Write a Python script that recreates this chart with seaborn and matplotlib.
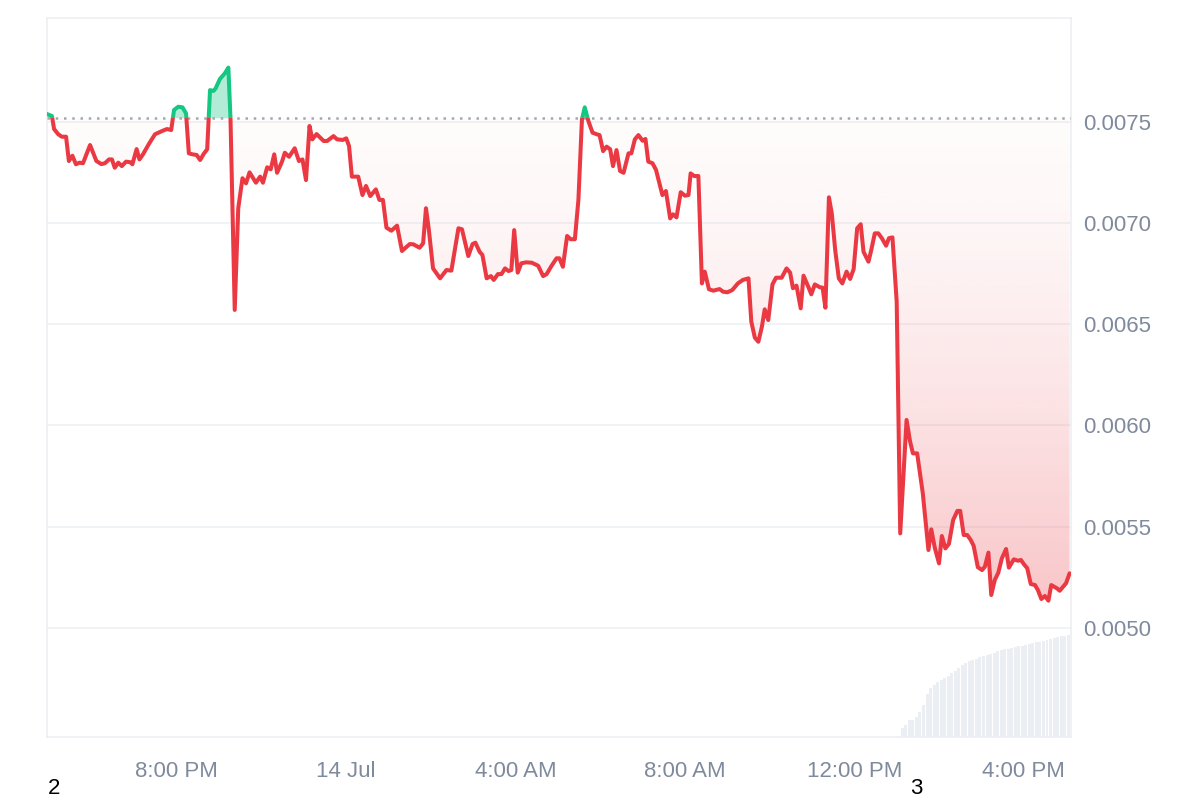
import numpy as np
import pandas as pd
import matplotlib.pyplot as plt
import matplotlib.dates as mdates
from matplotlib.colors import to_rgb
from matplotlib.patches import Rectangle
import seaborn as sns

sns.set_theme(style="white")
plt.rcParams["font.family"] = ["Liberation Sans", "DejaVu Sans"]

RED = "#ea3943"
GREEN = "#16c784"
TXT = "#808a9d"
GRID = "#eff2f5"

# price series: minutes after the window start, price
start = pd.Timestamp("2024-07-13 16:56")
end = start + pd.Timedelta(minutes=1451)
baseline = 0.007516

minutes = [
    0, 7, 10, 16, 21, 27, 31, 36, 41, 46, 51, 61, 70, 77, 82, 88, 92, 96, 101, 106,
    112, 118, 121, 127, 131, 136, 144, 153, 163, 170, 176, 180, 186, 192, 197, 201, 206, 212, 217, 222,
    227, 231, 236, 239, 245, 252, 257, 260, 266, 271, 277, 282, 287, 296, 302, 306, 312, 317, 322, 326,
    333, 337, 343, 351, 357, 362, 367, 372, 376, 382, 392, 397, 406, 411, 419, 424, 428, 432, 441, 447,
    452, 458, 466, 471, 476, 481, 488, 496, 503, 514, 519, 528, 533, 537, 541, 547, 557, 566, 573, 583,
    588, 597, 603, 607, 613, 617, 623, 629, 633, 639, 644, 649, 654, 658, 662, 667, 672, 679, 687, 696,
    703, 708, 715, 722, 726, 731, 737, 742, 748, 753, 758, 762, 767, 773, 779, 783, 788, 793, 798, 802,
    807, 812, 817, 824, 828, 833, 838, 844, 848, 852, 858, 863, 872, 877, 883, 887, 892, 898, 904, 909,
    912, 917, 923, 928, 932, 938, 944, 953, 958, 964, 971, 979, 986, 994, 998, 1003, 1008, 1013, 1017, 1022,
    1028, 1033, 1041, 1048, 1053, 1057, 1062, 1068, 1072, 1079, 1083, 1088, 1095, 1099, 1103, 1108, 1112, 1117, 1122, 1127,
    1133, 1138, 1143, 1148, 1153, 1157, 1164, 1168, 1173, 1178, 1183, 1189, 1193, 1198, 1204, 1209, 1218, 1223, 1227, 1233,
    1241, 1249, 1253, 1258, 1264, 1268, 1273, 1278, 1284, 1290, 1294, 1299, 1304, 1309, 1313, 1319, 1325, 1329, 1334, 1338,
    1343, 1348, 1353, 1359, 1363, 1370, 1376, 1380, 1384, 1389, 1394, 1400, 1404, 1409, 1414, 1419, 1423, 1431, 1435, 1444,
    1449,
]
prices = [
    0.007537, 0.007527, 0.007463, 0.007437, 0.007425, 0.007425, 0.007305, 0.007331, 0.007289, 0.007297,
    0.007294, 0.007384, 0.007305, 0.007290, 0.007294, 0.007313, 0.007313, 0.007272, 0.007297, 0.007280,
    0.007302, 0.007299, 0.007289, 0.007364, 0.007313, 0.007338, 0.007387, 0.007437, 0.007453, 0.007463,
    0.007458, 0.007557, 0.007573, 0.007570, 0.007540, 0.007343, 0.007338, 0.007335, 0.007310, 0.007340,
    0.007363, 0.007655, 0.007651, 0.007664, 0.007710, 0.007738, 0.007766, 0.007516, 0.006570, 0.007072,
    0.007220, 0.007195, 0.007249, 0.007198, 0.007228, 0.007198, 0.007274, 0.007264, 0.007338, 0.007247,
    0.007302, 0.007346, 0.007326, 0.007368, 0.007305, 0.007313, 0.007211, 0.007478, 0.007412, 0.007438,
    0.007404, 0.007404, 0.007428, 0.007412, 0.007409, 0.007417, 0.007379, 0.007228, 0.007228, 0.007137,
    0.007182, 0.007132, 0.007165, 0.007113, 0.007113, 0.006976, 0.006961, 0.006986, 0.006861, 0.006895,
    0.006894, 0.006877, 0.006899, 0.007072, 0.006968, 0.006775, 0.006726, 0.006767, 0.006764, 0.006973,
    0.006968, 0.006836, 0.006895, 0.006902, 0.006857, 0.006841, 0.006726, 0.006737, 0.006718, 0.006747,
    0.006747, 0.006775, 0.006762, 0.006767, 0.006964, 0.006754, 0.006800, 0.006805, 0.006803, 0.006788,
    0.006737, 0.006747, 0.006788, 0.006825, 0.006825, 0.006783, 0.006935, 0.006919, 0.006919, 0.007113,
    0.007511, 0.007570, 0.007504, 0.007445, 0.007437, 0.007433, 0.007354, 0.007376, 0.007363, 0.007280,
    0.007359, 0.007256, 0.007247, 0.007343, 0.007343, 0.007412, 0.007433, 0.007405, 0.007414, 0.007302,
    0.007294, 0.007261, 0.007137, 0.007157, 0.007022, 0.007042, 0.007027, 0.007151, 0.007134, 0.007137,
    0.007244, 0.007231, 0.007231, 0.006701, 0.006759, 0.006672, 0.006665, 0.006673, 0.006660, 0.006657,
    0.006668, 0.006701, 0.006718, 0.006726, 0.006512, 0.006433, 0.006413, 0.006487, 0.006573, 0.006520,
    0.006696, 0.006729, 0.006729, 0.006775, 0.006754, 0.006677, 0.006690, 0.006578, 0.006739, 0.006682,
    0.006647, 0.006696, 0.006682, 0.006680, 0.006581, 0.007126, 0.007047, 0.006861, 0.006726, 0.006701,
    0.006759, 0.006723, 0.006771, 0.006973, 0.006993, 0.006857, 0.006808, 0.006866, 0.006948, 0.006948,
    0.006924, 0.006887, 0.006924, 0.006928, 0.006611, 0.005467, 0.006027, 0.005920, 0.005862, 0.005862,
    0.005665, 0.005385, 0.005487, 0.005396, 0.005319, 0.005454, 0.005393, 0.005415, 0.005533, 0.005578,
    0.005578, 0.005459, 0.005459, 0.005434, 0.005406, 0.005300, 0.005286, 0.005303, 0.005372, 0.005163,
    0.005237, 0.005273, 0.005344, 0.005390, 0.005298, 0.005339, 0.005332, 0.005336, 0.005316, 0.005295,
    0.005217, 0.005212, 0.005188, 0.005143, 0.005158, 0.005135, 0.005212, 0.005196, 0.005184, 0.005221,
    0.005270,
]

# volume bars (5 minute buckets, relative units)
vol_start = pd.Timestamp("2024-07-14 13:08")
volumes = [
    9, 12, 17, 17, 20, 25, 32, 43, 49, 52, 55, 57, 59, 61, 64, 66, 69, 72, 74, 76,
    77, 78, 80, 81, 82, 83, 84, 86, 87, 88, 88, 89, 90, 91, 91, 92, 93, 94, 95, 95,
    96, 97, 98, 99, 100, 101, 101, 102,
]

yticks = [0.0050, 0.0055, 0.0060, 0.0065, 0.0070, 0.0075]
tick_times = ["2024-07-13 20:00", "2024-07-14 00:00", "2024-07-14 04:00",
              "2024-07-14 08:00", "2024-07-14 12:00", "2024-07-14 16:00"]
tick_labels = ["8:00 PM", "14 Jul", "4:00 AM", "8:00 AM", "12:00 PM", "4:00 PM"]

df = pd.DataFrame({"time": start + pd.to_timedelta(minutes, unit="min"), "price": prices})
df["x"] = mdates.date2num(df["time"])
vol = pd.DataFrame({"time": pd.date_range(vol_start, periods=len(volumes), freq="5min"),
                    "volume": volumes})
vol["x"] = mdates.date2num(vol["time"])

x0, x1 = mdates.date2num(start), mdates.date2num(end)
ymin, ymax = 0.004462, 0.008011

fig = plt.figure(figsize=(12, 8), dpi=100)
fig.patch.set_facecolor("white")
ax = fig.add_axes([47 / 1200, 1 - 737 / 800, 1024 / 1200, 719 / 800])

# volume on a twin axis behind the price
ax2 = ax.twinx()
ax2.bar(vol["x"], vol["volume"], width=4.2 / 1440, color="#ebeef3", linewidth=0)
ax2.set_ylim(0, max(volumes) / 0.1415)
ax2.yaxis.set_visible(False)
for s in ax2.spines.values():
    s.set_visible(False)
ax.set_zorder(ax2.get_zorder() + 1)
ax.patch.set_visible(False)

# price line: red under the baseline, green above it
sns.lineplot(data=df, x="x", y="price", color=RED, linewidth=2.9, sort=False,
             estimator=None, ax=ax, zorder=4)
sns.lineplot(data=df, x="x", y="price", color=GREEN, linewidth=2.9, sort=False,
             estimator=None, ax=ax, zorder=4)
red_line, green_line = ax.lines[-2], ax.lines[-1]
for ln in (red_line, green_line):
    ln.set_solid_joinstyle("round")
    ln.set_solid_capstyle("round")
red_line.set_clip_path(Rectangle((0, ymin - 1), 1, baseline - ymin + 1,
                                 transform=ax.get_yaxis_transform()))
green_line.set_clip_path(Rectangle((0, baseline), 1, 1,
                                   transform=ax.get_yaxis_transform()))

xv = df["x"].to_numpy()
pv = df["price"].to_numpy()

# green area above the baseline
ax.fill_between(xv, pv, baseline, where=pv >= baseline, interpolate=True,
                color=GREEN, alpha=0.33, linewidth=0, zorder=2)

# red gradient area under the baseline
area = ax.fill_between(xv, pv, baseline, facecolor="none", linewidth=0)
clip = area.get_paths()[0]
area.remove()
grad = np.zeros((256, 1, 4))
grad[..., :3] = to_rgb(RED)
ys = np.linspace(ymin, baseline, 256)
t = np.clip((baseline - ys) / (baseline - 0.00513), 0, 1.2)
grad[:, 0, 3] = 0.02 + 0.27 * t ** 1.5
img = ax.imshow(grad, extent=[x0, x1, ymin, baseline], origin="lower",
                aspect="auto", zorder=1.5, interpolation="bilinear")
img.set_clip_path(clip, transform=ax.transData)

# dotted reference line
ax.axhline(baseline, color="#a3a9b3", linestyle=(0, (1, 2.3)), linewidth=1.8, zorder=3)

ax.set_xlim(x0, x1)
ax.set_ylim(ymin, ymax)
ax.set_xticks(mdates.date2num(pd.to_datetime(tick_times)))
ax.set_xticklabels(tick_labels)
ax.set_yticks(yticks)
ax.set_yticklabels([f"{v:.4f}" for v in yticks])
ax.yaxis.tick_right()
ax.set_xlabel("")
ax.set_ylabel("")
ax.tick_params(axis="y", length=0, pad=9, labelsize=16, labelcolor=TXT)
ax.tick_params(axis="x", length=0, pad=17, labelsize=16, labelcolor=TXT)
ax.grid(axis="y", color=GRID, linewidth=1.2)
ax.grid(axis="x", visible=False)
ax.set_axisbelow(True)
for s in ax.spines.values():
    s.set_color("#eceff2")
    s.set_linewidth(1.2)

fig.text(54 / 1200, 1 - 799 / 800, "2", ha="center", va="bottom", fontsize=16, color="black")
fig.text(916 / 1200, 1 - 799 / 800, "3", ha="center", va="bottom", fontsize=16, color="black")

fig.savefig("out.png", dpi=100, facecolor="white")
